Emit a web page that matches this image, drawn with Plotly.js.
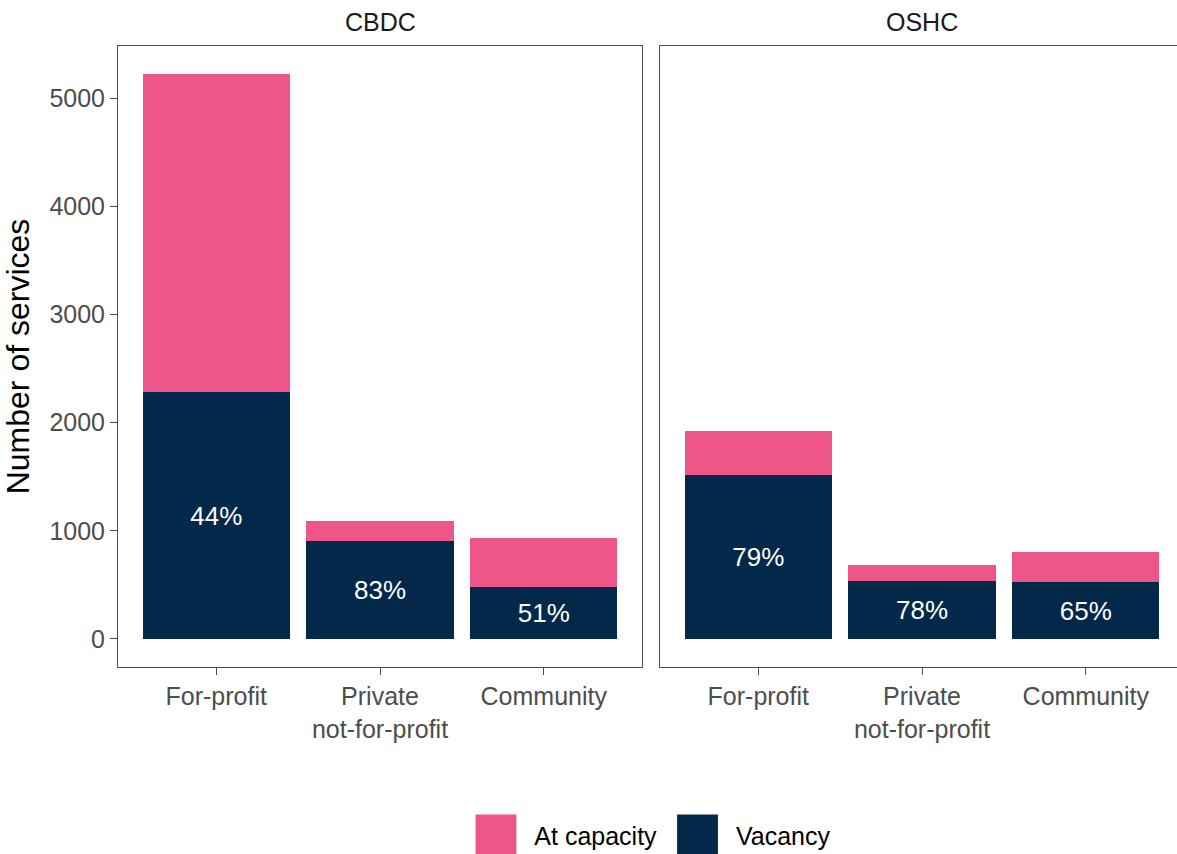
<!DOCTYPE html>
<html>
<head>
<meta charset="utf-8">
<script src="https://cdn.plot.ly/plotly-3.0.1.min.js"></script>
<style>
  html, body { margin: 0; padding: 0; background: #ffffff; }
  #chart { width: 1177px; height: 854px; }
</style>
</head>
<body>
<div id="chart"></div>
<script>
// ---- Data ----
const categories = ['For-profit', 'Private<br>not-for-profit', 'Community'];
const panels = ['CBDC', 'OSHC'];

const cbdcVacancy = [2280, 902, 475];
const cbdcAtCapacity = [2946, 187, 457];
const cbdcLabels = ['44%', '83%', '51%'];

const oshcVacancy = [1515, 533, 522];
const oshcAtCapacity = [408, 152, 280];
const oshcLabels = ['79%', '78%', '65%'];

const yTicks = [0, 1000, 2000, 3000, 4000, 5000];

// ---- Styling ----
const PINK = '#EE5589';
const NAVY = '#02284A';
const FONT = 'Liberation Sans, Arial, Helvetica, sans-serif';

function vacTrace(y, labels, xa, ya, show) {
  return {
    type: 'bar', name: 'Vacancy', x: categories, y: y, xaxis: xa, yaxis: ya,
    marker: { color: NAVY, line: { width: 0 } }, width: 0.9,
    text: labels, textposition: 'inside', insidetextanchor: 'middle',
    textfont: { color: '#ffffff', size: 26, family: FONT },
    constraintext: 'none', textangle: 0,
    legendgroup: 'vac', showlegend: show, hoverinfo: 'x+y+name'
  };
}
function capTrace(y, xa, ya, show) {
  return {
    type: 'bar', name: 'At capacity', x: categories, y: y, xaxis: xa, yaxis: ya,
    marker: { color: PINK, line: { width: 0 } }, width: 0.9,
    legendgroup: 'cap', showlegend: show, hoverinfo: 'x+y+name'
  };
}

const data = [
  vacTrace(cbdcVacancy, cbdcLabels, 'x', 'y', true),
  capTrace(cbdcAtCapacity, 'x', 'y', true),
  vacTrace(oshcVacancy, oshcLabels, 'x2', 'y2', false),
  capTrace(oshcAtCapacity, 'x2', 'y2', false)
];

const axisCommon = {
  showgrid: false, zeroline: false,
  showline: true, linecolor: '#4d4d4d', linewidth: 1,
  ticks: 'outside', ticklen: 7, tickcolor: '#4d4d4d', tickwidth: 1,
  tickfont: { family: FONT, size: 25, color: '#4d4d4d' },
  fixedrange: true
};

const yRange = [-261, 5487];

const layout = {
  width: 1177, height: 854,
  paper_bgcolor: '#ffffff', plot_bgcolor: '#ffffff',
  margin: { l: 118, r: 0, t: 46, b: 187 },
  barmode: 'stack',
  font: { family: FONT, color: '#1a1a1a' },
  showlegend: true,
  xaxis: Object.assign({}, axisCommon, {
    domain: [0, 0.4948], type: 'category', range: [-0.6, 2.6], mirror: true,
    categoryorder: 'array', categoryarray: categories
  }),
  xaxis2: Object.assign({}, axisCommon, {
    domain: [0.5118, 1], type: 'category', range: [-0.6, 2.557], mirror: true,
    anchor: 'y2', categoryorder: 'array', categoryarray: categories
  }),
  yaxis: Object.assign({}, axisCommon, {
    range: yRange, tickmode: 'array', tickvals: yTicks, ticktext: yTicks.map(String),
    mirror: true,
    title: { text: 'Number of services', font: { family: FONT, size: 32, color: '#000000' }, standoff: 12 }
  }),
  yaxis2: Object.assign({}, axisCommon, {
    range: yRange, anchor: 'x2', showticklabels: false, ticks: '', mirror: false
  }),
  legend: {
    orientation: 'h', xref: 'container', yref: 'container',
    x: 0.5548, xanchor: 'center', y: 0.022, yanchor: 'middle',
    traceorder: 'reversed',
    font: { family: FONT, size: 25, color: '#000000' },
    bgcolor: 'rgba(0,0,0,0)'
  },
  annotations: [
    { text: panels[0], xref: 'x', yref: 'paper', x: 1, y: 1, yanchor: 'bottom', yshift: 8,
      showarrow: false, font: { family: FONT, size: 25, color: '#1a1a1a' } },
    { text: panels[1], xref: 'x2', yref: 'paper', x: 1, y: 1, yanchor: 'bottom', yshift: 8,
      showarrow: false, font: { family: FONT, size: 25, color: '#1a1a1a' } }
  ]
};

// Enlarge the legend keys to ggplot-sized squares and re-flow the entries
function layoutLegend(gd) {
  const SCALE = 3.4, GAP_SYM_TXT = 18, GAP_ITEMS = 20;
  const items = Array.from(gd.querySelectorAll('.legend .traces'));
  if (!items.length) return;
  gd.querySelectorAll('.legend .scrollbox, .legend').forEach(s => s.removeAttribute('clip-path'));
  const parts = items.map(it => ({
    sym: it.querySelector('.legendpoints path'),
    txt: it.querySelector('text.legendtext')
  }));
  parts.forEach(p => { p.sym.setAttribute('transform', 'scale(' + SCALE + ')'); p.txt.removeAttribute('transform'); });
  const rects = parts.map(p => ({ s: p.sym.getBoundingClientRect(), t: p.txt.getBoundingClientRect() }));
  let total = 0;
  rects.forEach((r, i) => { total += r.s.width + GAP_SYM_TXT + r.t.width + (i < rects.length - 1 ? GAP_ITEMS : 0); });
  const gdRect = gd.getBoundingClientRect();
  let cur = gdRect.left + gd._fullLayout.width * gd._fullLayout.legend.x - total / 2;
  parts.forEach((p, i) => {
    const r = rects[i];
    const dxs = cur - r.s.left;
    p.sym.setAttribute('transform', 'translate(' + dxs + ',0) scale(' + SCALE + ')');
    cur += r.s.width + GAP_SYM_TXT;
    const dxt = cur - r.t.left;
    p.txt.setAttribute('transform', 'translate(' + dxt + ',0)');
    cur += r.t.width + GAP_ITEMS;
  });
}

Plotly.newPlot('chart', data, layout, { displayModeBar: false, staticPlot: true }).then(gd => {
  layoutLegend(gd);
});
</script>
</body>
</html>
